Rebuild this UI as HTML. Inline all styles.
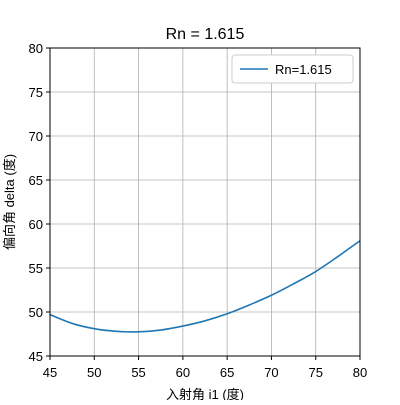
<!DOCTYPE html>
<html><head><meta charset="utf-8">
<style>
html,body{margin:0;padding:0;background:#fff;}
svg text{font-family:"Liberation Sans","Noto Sans CJK SC",sans-serif;fill:#000;}
</style></head>
<body>
<svg id="chart" width="400" height="400" xmlns="http://www.w3.org/2000/svg">
<text x="205" y="39" font-size="16" text-anchor="middle">Rn = 1.615</text>
<g id="grid"></g>
<g id="series"></g>
<rect x="50" y="48" width="310" height="308" fill="none" stroke="#000" stroke-width="1"/>
<g id="ticks"></g>
<text x="205" y="399" font-size="13" text-anchor="middle">入射角 i1 (度)</text>
<text transform="translate(14,202) rotate(-90)" font-size="13" text-anchor="middle">偏向角 delta (度)</text>
<g>
<rect x="232" y="55" width="121" height="28" rx="3" fill="#fff" stroke="#ccc"/>
<line x1="240" y1="69" x2="268" y2="69" stroke="#1f77b4" stroke-width="1.6"/>
<text x="275" y="74" font-size="13">Rn=1.615</text>
</g>
</svg>
<script>
const xValues = [45, 47.5, 50, 52.5, 55, 57.5, 60, 62.5, 65, 67.5, 70, 72.5, 75, 77.5, 80];
const yValues = [49.7, 48.7, 48.1, 47.8, 47.75, 47.95, 48.4, 49.0, 49.8, 50.8, 51.9, 53.2, 54.6, 56.3, 58.1];
const xTicks = [45, 50, 55, 60, 65, 70, 75, 80];
const yTicks = [45, 50, 55, 60, 65, 70, 75, 80];
const NS = "http://www.w3.org/2000/svg";
function sx(v){return 50 + (v-45)/35*310;}
function sy(v){return 356 - (v-45)/35*308;}
const grid = document.getElementById('grid');
const ticks = document.getElementById('ticks');
xTicks.forEach(t=>{
  const l=document.createElementNS(NS,'line');
  
  
  l.setAttribute('x1',sx(t));l.setAttribute('x2',sx(t));l.setAttribute('y1',48);l.setAttribute('y2',356);
  l.setAttribute('stroke','#b0b0b0');l.setAttribute('stroke-width','0.8');grid.appendChild(l);
  const k=document.createElementNS(NS,'line');
  
  
  k.setAttribute('x1',sx(t));k.setAttribute('x2',sx(t));k.setAttribute('y1',356);k.setAttribute('y2',360);
  k.setAttribute('stroke','#000');ticks.appendChild(k);
  const tx=document.createElementNS(NS,'text');
  
  
  tx.setAttribute('x',sx(t));tx.setAttribute('y',377);tx.setAttribute('font-size','13');tx.setAttribute('text-anchor','middle');
  tx.textContent=t;ticks.appendChild(tx);
});
yTicks.forEach(t=>{
  const l=document.createElementNS(NS,'line');
  
  
  l.setAttribute('x1',50);l.setAttribute('x2',360);l.setAttribute('y1',sy(t));l.setAttribute('y2',sy(t));
  l.setAttribute('stroke','#b0b0b0');l.setAttribute('stroke-width','0.8');grid.appendChild(l);
  const k=document.createElementNS(NS,'line');
  
  
  k.setAttribute('x1',46);k.setAttribute('x2',50);k.setAttribute('y1',sy(t));k.setAttribute('y2',sy(t));
  k.setAttribute('stroke','#000');ticks.appendChild(k);
  const tx=document.createElementNS(NS,'text');
  
  
  tx.setAttribute('x',43);tx.setAttribute('y',sy(t)+5);tx.setAttribute('font-size','13');tx.setAttribute('text-anchor','end');
  tx.textContent=t;ticks.appendChild(tx);
});
const pts = xValues.map((x,i)=>[sx(x), sy(yValues[i])]);
let d = 'M'+pts[0][0]+','+pts[0][1];
for(let i=0;i<pts.length-1;i++){
  const p0=pts[Math.max(0,i-1)], p1=pts[i], p2=pts[i+1], p3=pts[Math.min(pts.length-1,i+2)];
  const c1x=p1[0]+(p2[0]-p0[0])/6, c1y=p1[1]+(p2[1]-p0[1])/6;
  const c2x=p2[0]-(p3[0]-p1[0])/6, c2y=p2[1]-(p3[1]-p1[1])/6;
  d+=' C'+c1x+','+c1y+' '+c2x+','+c2y+' '+p2[0]+','+p2[1];
}
const p=document.createElementNS(NS,'path');


p.setAttribute('d',d);
p.setAttribute('fill','none');p.setAttribute('stroke','#1f77b4');p.setAttribute('stroke-width','1.6');
document.getElementById('series').appendChild(p);
</script>
</body></html>
